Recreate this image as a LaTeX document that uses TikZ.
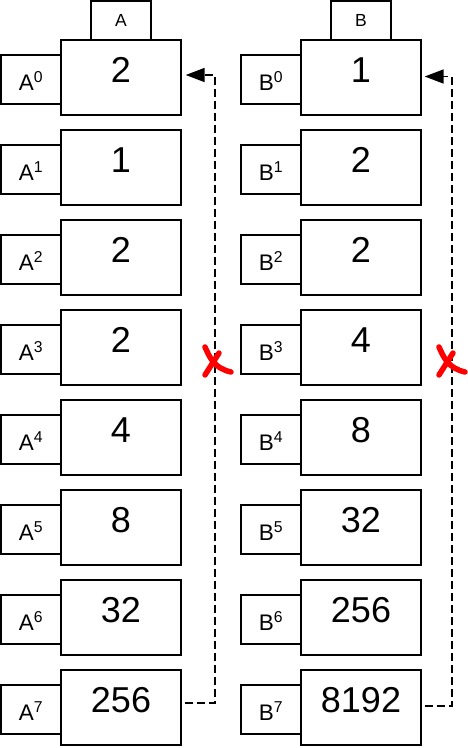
\documentclass[tikz,border=0pt]{standalone}
\usepackage{fontspec}
\setmainfont{Liberation Sans}
\usetikzlibrary{arrows.meta}
\begin{document}
\begin{tikzpicture}[x=1pt,y=-1pt,
  valbox/.style={draw,line width=1.4pt,minimum width=120pt,minimum height=75pt,inner sep=0pt,
    font=\fontsize{36}{36}\selectfont,text height=26pt,text depth=15.6pt},
  idxbox/.style={draw,line width=1.4pt,minimum width=60pt,minimum height=49pt,inner sep=0pt,
    font=\fontsize{22.5}{22.5}\selectfont,text height=21pt,text depth=0pt},
  headbox/.style={draw,line width=1.4pt,minimum width=60pt,minimum height=39pt,inner sep=0pt,
    font=\fontsize{17.5}{17.5}\selectfont},
  link/.style={line width=1.7pt,dash pattern=on 8pt off 4pt,-{Triangle[length=19pt,width=14pt]}},
  cross/.style={red,line width=5.5pt,line cap=round}]
\useasboundingbox (0,0) rectangle (467,748);
\node[headbox] (hA) at (121,20.5) {A};
\node[headbox] (hB) at (361,20.5) {B};
\foreach \i/\va/\vb in {0/2/1,1/1/2,2/2/2,3/2/4,4/4/8,5/8/32,6/32/256,7/256/8192}{
  \node[idxbox] (la\i) at (31,79.5+90*\i) {A\textsuperscript{\i}};
  \node[valbox] (a\i) at (121,77.5+90*\i) {\va};
  \node[idxbox] (lb\i) at (271,79.5+90*\i) {B\textsuperscript{\i}};
  \node[valbox] (b\i) at (361,77.5+90*\i) {\vb};
}
\draw[link] ([xshift=3pt,yshift=4.5pt]a7.east) -- ++(30,0) |- ([xshift=4pt,yshift=2.5pt]a0.east);
\draw[link] ([xshift=3pt,yshift=1.5pt]b7.east) -- ++(27,0) |- ([xshift=3pt,yshift=1pt]b0.east);
\draw[cross] (205,347) .. controls (210,358) and (214,368) .. (231,372);
\draw[cross] (219,353) -- (205,375);
\draw[cross] (439,347) .. controls (444,358) and (448,368) .. (465,372);
\draw[cross] (453,353) -- (439,375);
\end{tikzpicture}
\end{document}
